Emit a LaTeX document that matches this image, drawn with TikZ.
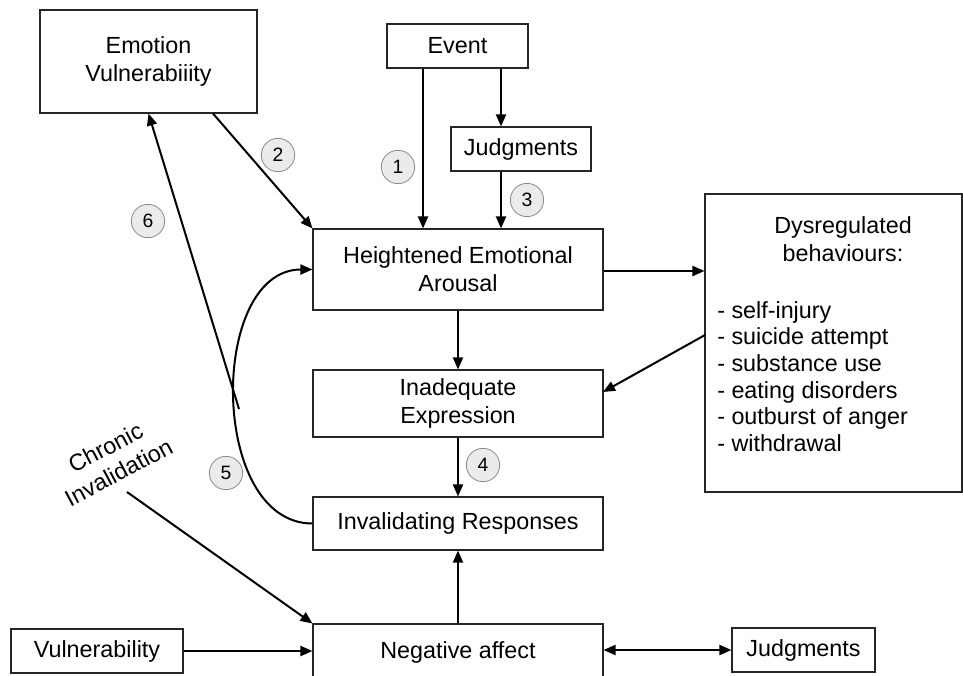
\documentclass[tikz,border=0pt]{standalone}
\usepackage{fontspec}
\setmainfont{Liberation Sans}
\usetikzlibrary{arrows.meta,calc}
\begin{document}
\begin{tikzpicture}[x=0.75pt,y=-0.75pt,
  >={Triangle[length=9pt,width=7.5pt]},
  box/.style n args={2}{draw=black!85, line width=0.8pt, minimum width=#1*0.75pt, minimum height=#2*0.75pt, inner sep=0pt, align=center, font=\fontsize{17.5}{21}\selectfont},
  txt/.style={inner sep=0pt, font=\fontsize{17.5}{21}\selectfont},
  arr/.style={->, line width=1.5pt},
  num/.style={circle, draw=black!45, fill=black!8, line width=0.6pt, minimum size=25pt, inner sep=0pt, font=\fontsize{14.5}{16}\selectfont}]
\useasboundingbox (0,0) rectangle (963,675);
\clip (0,0) rectangle (963,675);

% boxes
\node[box={217}{103}] (ev) at (148.5,61.5) {Emotion\\Vulnerabiiity};
\node[box={141}{44}] (event) at (457.5,46) {Event};
\node[box={140}{44}] (judg1) at (521,149) {Judgments};
\node[box={290}{81}] (hea) at (458,269.5) {Heightened Emotional\\Arousal};
\node[box={257}{298}] (dys) at (833.5,343) {};
\node[txt, align=center] (dyshead) at (843,239) {Dysregulated\\behaviours:};
\node[txt, align=left, anchor=west, font=\fontsize{17.5}{20}\selectfont] (dyslist) at (717,376.5) {- self-injury\\- suicide attempt\\- substance use\\- eating disorders\\- outburst of anger\\- withdrawal};
\node[box={290}{67}] (inad) at (458,403.5) {Inadequate\\Expression};
\node[box={290}{53}] (inv) at (458,523.5) {Invalidating Responses};
\node[box={290}{56}] (neg) at (458,652) {Negative affect};
\node[box={172}{44}] (vul) at (97,651) {Vulnerability};
\node[box={143}{44}] (judg2) at (803.5,650) {Judgments};
\node[txt, align=center, rotate=28] (chr) at (112,460) {Chronic\\Invalidation};

% numbered markers
\node[num] (n1) at (398,167) {1};
\node[num] (n2) at (278,155) {2};
\node[num] (n3) at (527,200) {3};
\node[num] (n4) at (483,465) {4};
\node[num] (n5) at (226,473) {5};
\node[num] (n6) at (148,221) {6};

% helper coordinates
\coordinate (xa) at (423,0);
\coordinate (xb) at (501,0);
\coordinate (e2) at (213,0);
\coordinate (c6) at (239,409);
\coordinate (d1) at (705,335);
\coordinate (d2) at (603,392);
\coordinate (ch) at (127,492);
\coordinate (yh) at (0,271);

% connectors
\draw[arr] (event.south -| xa) -- (hea.north -| xa);
\draw[arr] (event.south -| xb) -- (judg1.north -| xb);
\draw[arr] (judg1.south -| xb) -- (hea.north -| xb);
\draw[arr] (ev.south -| e2) -- (hea.north west);
\draw[arr] (c6) -- (ev.south);
\draw[arr] (inv.west) to[out=180,in=180,looseness=1.05] (hea.west);
\draw[arr] (hea.east |- yh) -- (dys.west |- yh);
\draw[arr] (d1) -- (d2);
\draw[arr] (hea.south) -- (inad.north);
\draw[arr] (inad.south) -- (inv.north);
\draw[arr] (neg.north) -- (inv.south);
\draw[arr] (ch) -- (neg.north west);
\draw[arr] (vul.east) -- (vul.east -| neg.west);
\draw[<->, line width=1.5pt] (judg2.west -| neg.east) -- (judg2.west);
\end{tikzpicture}
\end{document}
